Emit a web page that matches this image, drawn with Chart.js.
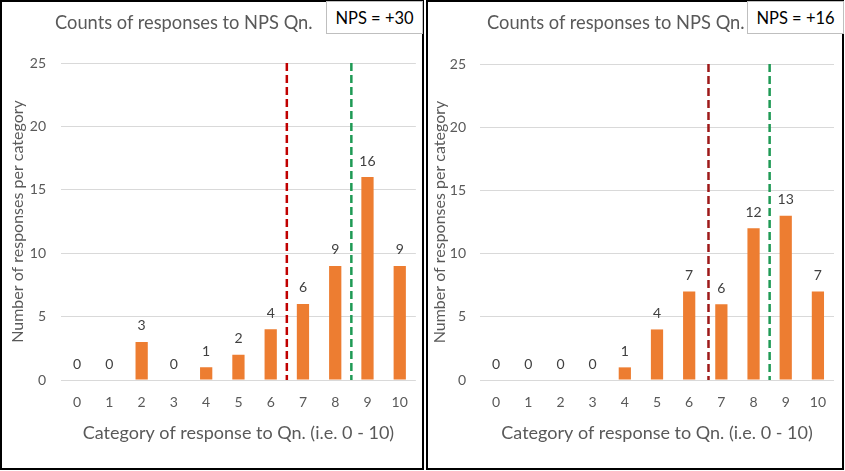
<!DOCTYPE html>
<html>
<head>
<meta charset="utf-8">
<script src="https://cdn.jsdelivr.net/npm/chart.js@4.4.0/dist/chart.umd.min.js"></script>
<style>
  html, body { margin: 0; padding: 0; background: #fff; }
  body { width: 845px; height: 471px; position: relative; overflow: hidden; font-family: Lato, sans-serif; }
  .panel { position: absolute; top: 0; height: 466px; border: 2px solid #000; background: #fff; }
  #panelA { left: 0; width: 420px; }
  #panelB { left: 426px; width: 414px; }
  .wrap { position: absolute; left: 0; top: 0; width: 100%; height: 100%; }
  .title { position: absolute; top: 8px; font-size: 18.3px; line-height: 24px; color: #595959; white-space: nowrap; }
  .nps { position: absolute; top: -1px; width: 95px; height: 31px; border: 1px solid #BFBFBF; background: #fff;
         font-size: 16.5px; line-height: 33px; text-align: center; color: #000; }
</style>
</head>
<body>
<div class="panel" id="panelA">
  <div class="wrap"><canvas id="chartA"></canvas></div>
  <div class="title" style="left:53px">Counts of responses to NPS Qn.</div>
  <div class="nps" style="left:324px">NPS = +30</div>
</div>
<div class="panel" id="panelB">
  <div class="wrap"><canvas id="chartB"></canvas></div>
  <div class="title" style="left:59px">Counts of responses to NPS Qn.</div>
  <div class="nps" style="left:319px">NPS = +16</div>
</div>
<script>
const categories = ['0', '1', '2', '3', '4', '5', '6', '7', '8', '9', '10'];
const countsA = [0, 0, 3, 0, 1, 2, 4, 6, 9, 16, 9];
const countsB = [0, 0, 0, 0, 1, 4, 7, 6, 12, 13, 7];
const yTicks = [0, 5, 10, 15, 20, 25];
// detractor / promoter dividers, in category units
const cutoffsA = [6.5, 8.5];
const cutoffsB = [6.6, 8.5];

const grey = '#595959';

// draws the count above each bar
const valueLabels = {
  id: 'valueLabels',
  afterDatasetsDraw(chart) {
    const meta = chart.getDatasetMeta(0);
    const values = chart.data.datasets[0].data;
    const ctx = chart.ctx;
    ctx.save();
    ctx.font = '14px Lato';
    ctx.fillStyle = '#404040';
    ctx.textAlign = 'center';
    ctx.textBaseline = 'middle';
    meta.data.forEach((bar, i) => ctx.fillText(String(values[i]), bar.x, bar.y - 16));
    ctx.restore();
  }
};

// dashed vertical dividers, placed through the category scale
const dividers = {
  id: 'dividers',
  afterDatasetsDraw(chart, args, opts) {
    const { ctx, scales: { x, y } } = chart;
    const top = y.getPixelForValue(yTicks[yTicks.length - 1]);
    const bottom = y.getPixelForValue(yTicks[0]);
    ctx.save();
    ctx.lineWidth = 2.5;
    ctx.setLineDash([8, 4]);
    opts.lines.forEach(l => {
      const px = x.getPixelForValue(l.at);
      ctx.strokeStyle = l.colour;
      ctx.beginPath();
      ctx.moveTo(px, top);
      ctx.lineTo(px, bottom);
      ctx.stroke();
    });
    ctx.restore();
  }
};

function makeChart(id, counts, cutoffs, redColour, pad, yWidth, yTickPad, yTitlePad) {
  return new Chart(document.getElementById(id), {
    type: 'bar',
    data: {
      labels: categories,
      datasets: [{
        data: counts,
        backgroundColor: '#ED7D31',
        barPercentage: 0.38,
        categoryPercentage: 1
      }]
    },
    options: {
      responsive: true,
      maintainAspectRatio: false,
      animation: false,
      layout: { padding: pad },
      plugins: {
        legend: { display: false },
        tooltip: { enabled: false },
        dividers: { lines: [{ at: cutoffs[0], colour: redColour }, { at: cutoffs[1], colour: '#1F9A55' }] }
      },
      scales: {
        x: {
          grid: { display: false, drawTicks: false },
          border: { display: false },
          ticks: { color: grey, font: { family: 'Lato', size: 14 }, padding: 14 },
          title: { display: true, text: 'Category of response to Qn. (i.e. 0 - 10)', color: grey,
                   font: { family: 'Lato', size: 18 }, padding: { top: 0, bottom: 24 } },
          afterFit: s => { s.height = 88; }
        },
        y: {
          min: yTicks[0],
          max: yTicks[yTicks.length - 1],
          afterBuildTicks: s => { s.ticks = yTicks.map(v => ({ value: v })); },
          grid: { color: '#D9D9D9', drawTicks: false },
          border: { display: false },
          ticks: { color: grey, font: { family: 'Lato', size: 14 }, padding: yTickPad },
          title: { display: true, text: 'Number of responses per category', color: grey,
                   font: { family: 'Lato', size: 16 }, padding: { top: yTitlePad, bottom: 0 } },
          afterFit: s => { s.width = yWidth; }
        }
      }
    },
    plugins: [valueLabels, dividers]
  });
}

makeChart('chartA', countsA, cutoffsA, '#C00000', { top: 61, right: 3, bottom: 0, left: 0 }, 59, 15, 6);
makeChart('chartB', countsB, cutoffsB, '#9E1A1A', { top: 62, right: 8, bottom: 0, left: 0 }, 52, 14, 2);
</script>
</body>
</html>
